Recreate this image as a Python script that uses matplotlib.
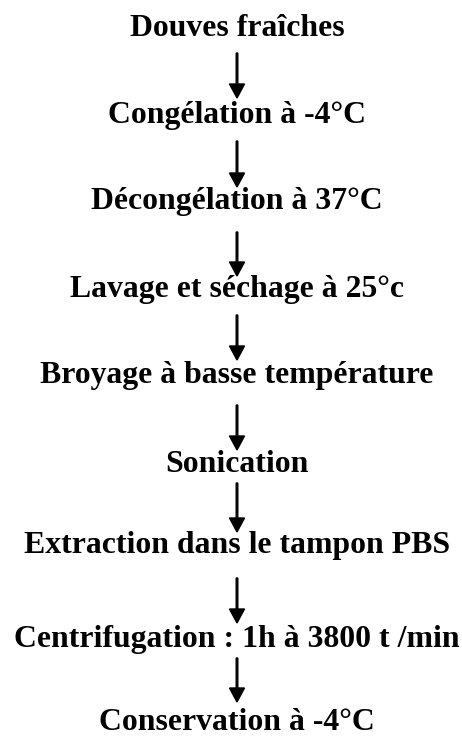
import matplotlib.pyplot as plt

# Étapes du protocole
etapes = [
    "Douves fraîches",
    "Congélation à -4°C",
    "Décongélation à 37°C",
    "Lavage et séchage à 25°c",
    "Broyage à basse température",
    "Sonication",
    "Extraction dans le tampon PBS",
    "Centrifugation : 1h à 3800 t /min",
    "Conservation à -4°C",
]
# position verticale (pixels depuis le haut)
y_texte = [29, 115, 202, 290, 375, 465, 545, 640, 722]
fleche_haut = [53, 141, 232, 315, 405, 483, 578, 658]
fleche_bas = [98, 187, 276, 360, 450, 532, 623, 702]
x_centre = 237

fig = plt.figure(figsize=(4.62, 7.36), dpi=100)
ax = fig.add_axes([0, 0, 1, 1])
ax.set_xlim(0, 462)
ax.set_ylim(736, 0)
ax.axis("off")

for t, y in zip(etapes, y_texte):
    ax.text(x_centre, y, t, ha="center", va="center", fontsize=22.9,
            fontweight="bold", family="Liberation Serif", color="black")

for y0, y1 in zip(fleche_haut, fleche_bas):
    ax.arrow(x_centre, y0, 0, y1 - y0, width=1.6, head_width=15,
             head_length=14, length_includes_head=True, color="black")

fig.savefig("out.png", dpi=100)
